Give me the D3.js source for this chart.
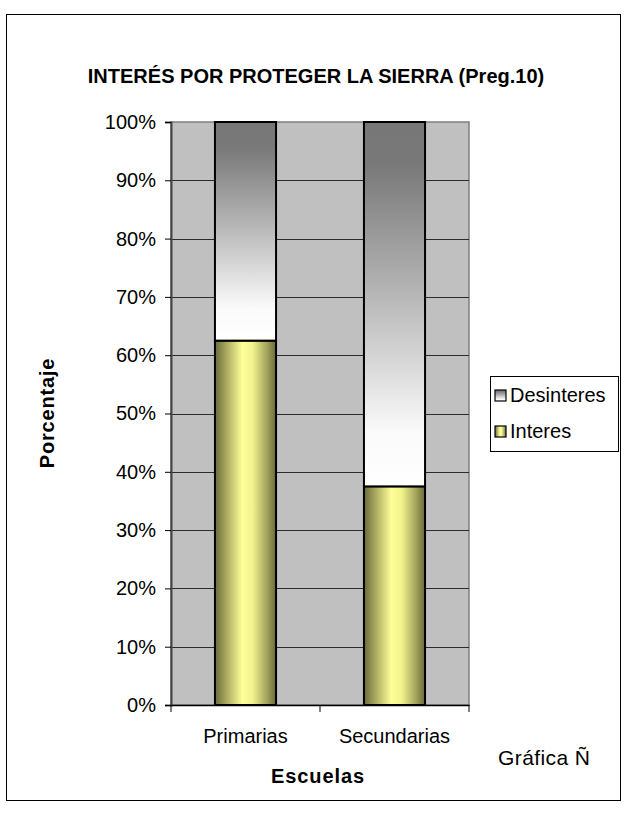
<!DOCTYPE html>
<html>
<head>
<meta charset="utf-8">
<script src="https://cdn.jsdelivr.net/npm/d3@7"></script>
<style>
  html, body { margin: 0; padding: 0; background: #fff; }
  svg { display: block; font-family: "Liberation Sans", Arial, sans-serif; }
</style>
</head>
<body>
<svg id="chart" width="627" height="818"></svg>
<script>
// ---- data ----
const categories = ["Primarias", "Secundarias"];
const seriesNames = ["Interes", "Desinteres"];
const interes = [0.625, 0.375];
const desinteres = [0.375, 0.625];
const yTicks = [0, 0.1, 0.2, 0.3, 0.4, 0.5, 0.6, 0.7, 0.8, 0.9, 1.0];
const titleText = "INTERÉS POR PROTEGER LA SIERRA (Preg.10)";
const yTitle = "Porcentaje";
const xTitle = "Escuelas";
const noteText = "Gráfica Ñ";

const svg = d3.select("#chart");
const plot = { left: 171, right: 469, top: 122, bottom: 705 };

// outer frame
svg.append("rect").attr("x", 6.5).attr("y", 14.5).attr("width", 614).attr("height", 786)
  .attr("fill", "#fff").attr("stroke", "#000").attr("stroke-width", 1);

const defs = svg.append("defs");
const gI = defs.append("linearGradient").attr("id", "gInteres")
  .attr("x1", "0%").attr("x2", "100%").attr("y1", "0%").attr("y2", "0%");
[[0, "#6a6a3a"], [0.2, "#adad62"], [0.45, "#ffff99"], [0.62, "#f2f28e"], [0.85, "#a3a35c"], [1, "#6a6a3a"]]
  .forEach(([o, c]) => gI.append("stop").attr("offset", o).attr("stop-color", c));
const gD = defs.append("linearGradient").attr("id", "gDesinteres")
  .attr("x1", "0%").attr("x2", "0%").attr("y1", "0%").attr("y2", "100%");
[[0, "#777777"], [0.12, "#797979"], [0.45, "#b2b2b2"], [0.85, "#fafafa"], [1, "#ffffff"]]
  .forEach(([o, c]) => gD.append("stop").attr("offset", o).attr("stop-color", c));

const x = d3.scaleBand().domain(categories).range([plot.left, plot.right])
  .paddingInner(0.59).paddingOuter(0.295);
const y = d3.scaleLinear().domain([0, 1]).range([plot.bottom, plot.top]);

// plot area
svg.append("rect").attr("x", plot.left).attr("y", plot.top)
  .attr("width", plot.right - plot.left).attr("height", plot.bottom - plot.top)
  .attr("fill", "#c0c0c0").attr("stroke", "#808080").attr("stroke-width", 1.5);

// gridlines
svg.append("g").selectAll("line").data(yTicks.filter(t => t > 0 && t < 1)).join("line")
  .attr("x1", plot.left).attr("x2", plot.right)
  .attr("y1", d => Math.round(y(d)) + 0.5).attr("y2", d => Math.round(y(d)) + 0.5)
  .attr("stroke", "#2b2b2b").attr("stroke-width", 1);

// stacked bars
const stackData = categories.map((c, i) => ({ cat: c, Interes: interes[i], Desinteres: desinteres[i] }));
const stack = d3.stack().keys(seriesNames)(stackData);
const fills = { Interes: "url(#gInteres)", Desinteres: "url(#gDesinteres)" };
svg.append("g").selectAll("g").data(stack).join("g")
  .attr("fill", d => fills[d.key])
  .selectAll("rect").data(d => d).join("rect")
  .attr("x", d => x(d.data.cat))
  .attr("width", x.bandwidth())
  .attr("y", d => y(d[1]))
  .attr("height", d => y(d[0]) - y(d[1]))
  .attr("stroke", "#000").attr("stroke-width", 2);

// y axis
const yAxis = svg.append("g").attr("transform", `translate(${plot.left},0)`)
  .call(d3.axisLeft(y).tickValues(yTicks).tickFormat(d3.format(".0%")).tickSize(6).tickPadding(9));
yAxis.select(".domain").attr("stroke", "#444").attr("stroke-width", 2);
yAxis.selectAll(".tick line").attr("stroke", "#000");
yAxis.selectAll("text").attr("font-size", 20).attr("fill", "#000")
  .attr("font-family", "Liberation Sans, Arial, sans-serif");

// x axis
const xAxis = svg.append("g").attr("transform", `translate(0,${plot.bottom})`)
  .call(d3.axisBottom(x).tickSize(0).tickPadding(24));
xAxis.select(".domain").attr("stroke", "#000").attr("stroke-width", 1.5);
xAxis.selectAll("text").attr("font-size", 20).attr("fill", "#000")
  .attr("font-family", "Liberation Sans, Arial, sans-serif");
// category boundary ticks
const bounds = [plot.left].concat(categories.map(c => x(c) + x.bandwidth() / 2 + x.step() / 2));
svg.append("g").selectAll("line").data(bounds).join("line")
  .attr("x1", d => d).attr("x2", d => d)
  .attr("y1", plot.bottom).attr("y2", plot.bottom + 7)
  .attr("stroke", "#000");

// titles
svg.append("text").attr("x", 316).attr("y", 83).attr("text-anchor", "middle")
  .attr("font-size", 20).attr("font-weight", "bold").text(titleText);
svg.append("text").attr("transform", "translate(54,413) rotate(-90)").attr("text-anchor", "middle")
  .attr("font-size", 20).attr("font-weight", "bold").attr("letter-spacing", 0.8).text(yTitle);
svg.append("text").attr("x", 318).attr("y", 783).attr("text-anchor", "middle")
  .attr("font-size", 20).attr("font-weight", "bold").attr("letter-spacing", 0.9).text(xTitle);
svg.append("text").attr("x", 498).attr("y", 765)
  .attr("font-size", 21).attr("letter-spacing", 0.4).text(noteText);

// legend
const leg = svg.append("g");
leg.append("rect").attr("x", 490.5).attr("y", 376.5).attr("width", 128).attr("height", 75)
  .attr("fill", "#fff").attr("stroke", "#000").attr("stroke-width", 1);
const legItems = [
  { name: "Desinteres", fill: "url(#gDesinteres)", yy: 395 },
  { name: "Interes", fill: "url(#gInteres)", yy: 431 }
];
legItems.forEach(it => {
  leg.append("rect").attr("x", 495).attr("y", it.yy - 5).attr("width", 11).attr("height", 11)
    .attr("fill", it.fill).attr("stroke", "#000").attr("stroke-width", 1.2);
  leg.append("text").attr("x", 510).attr("y", it.yy + 7).attr("font-size", 20).text(it.name);
});
</script>
</body>
</html>
